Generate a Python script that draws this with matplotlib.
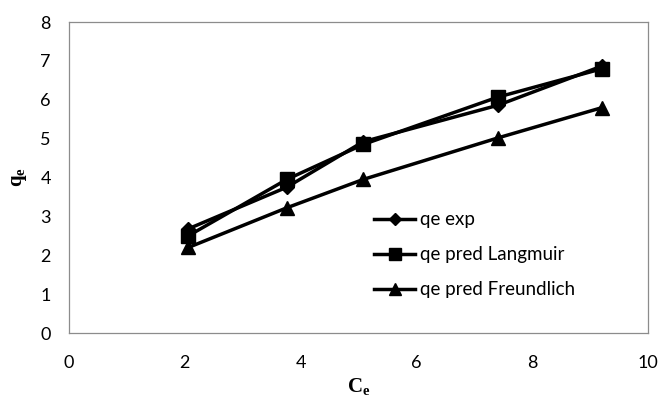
import numpy as np
import matplotlib.pyplot as plt

ce = [2.06, 3.76, 5.08, 7.41, 9.21]
qe_exp = [2.68, 3.75, 4.92, 5.86, 6.87]
qe_langmuir = [2.5, 3.95, 4.85, 6.07, 6.8]
qe_freundlich = [2.2, 3.22, 3.95, 5.02, 5.8]
labels = ['qe exp', 'qe pred Langmuir', 'qe pred Freundlich']

plt.rcParams['font.family'] = ['Lato', 'DejaVu Sans']

fig = plt.figure(figsize=(6.58, 4.16), dpi=100)
ax = fig.add_axes([0.1049, 0.1995, 0.88, 0.7476])

ax.plot(ce, qe_exp, color='black', lw=2.5, marker='D', ms=7.5, label=labels[0])
ax.plot(ce, qe_langmuir, color='black', lw=2.5, marker='s', ms=10, label=labels[1])
ax.plot(ce, qe_freundlich, color='black', lw=2.5, marker='^', ms=10.5, label=labels[2])

ax.set_xlim(0, 10)
ax.set_ylim(0, 8)
ax.set_xticks(np.arange(0, 11, 2))
ax.set_yticks(np.arange(0, 9, 1))
ax.tick_params(axis='x', length=0, labelsize=13, pad=16)
ax.tick_params(axis='y', length=0, labelsize=13, pad=13)
for s in ax.spines.values():
    s.set_color('#8c8c8c')
    s.set_linewidth(0.9)

ax.set_xlabel('C$_\\mathregular{e}$', family='Liberation Serif', fontweight='bold', fontsize=15, labelpad=4)
ax.set_ylabel('q$_\\mathregular{e}$', family='Liberation Serif', fontweight='bold', fontsize=15, labelpad=8)

leg = ax.legend(loc='upper left', bbox_to_anchor=(0.527, 0.392), frameon=False, fontsize=13.5,
                borderaxespad=0, borderpad=0, handlelength=2.2, handletextpad=0.27,
                labelspacing=0.96, markerscale=0.8)

fig.savefig('out.png', dpi=100)
